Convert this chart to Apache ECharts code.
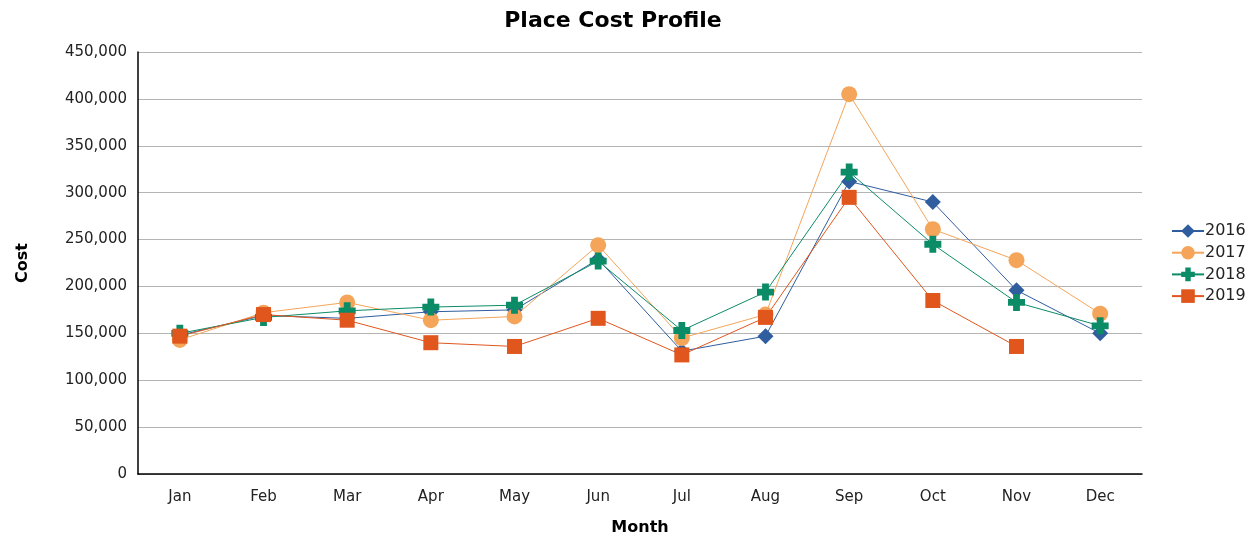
<!DOCTYPE html>
<html>
<head>
<meta charset="utf-8">
<script src="https://cdn.jsdelivr.net/npm/echarts@6/dist/echarts.min.js"></script>
<style>html,body{margin:0;padding:0;background:#fff}#c{width:1250px;height:541px}</style>
</head>
<body>
<div id="c"></div>
<script>
const months = ['Jan','Feb','Mar','Apr','May','Jun','Jul','Aug','Sep','Oct','Nov','Dec'];
const s2016 = [148000,169000,166000,173000,175000,229000,131000,147000,312000,290000,196000,150000];
const s2017 = [143000,172000,183000,164000,168000,244000,145000,170000,405000,261000,228000,171000];
const s2018 = [150000,167000,174000,178000,180000,227000,153000,194000,322000,245000,183000,158000];
const s2019 = [147000,170000,164000,140000,136000,166000,127000,167000,295000,185000,136000,null];
const yTicks = [0,50000,100000,150000,200000,250000,300000,350000,400000,450000];

const FONT = 'DejaVu Sans';
const plus = 'path://M3,0H7V3H10V7H7V10H3V7H0V3H3Z';
function mk(name, data, color, symbol, size){
  return {name, type:'line', data, symbol, symbolSize:size, showAllSymbol:true,
    lineStyle:{width:1,color}, itemStyle:{color}, connectNulls:false, z: 2};
}
const chart = echarts.init(document.getElementById('c'));
chart.setOption({
  animation:false,
  textStyle:{fontFamily:FONT},
  title:{text:'Place Cost Profile', left:608, top:5, textAlign:'center',
    textStyle:{fontFamily:FONT, fontWeight:'bold', fontSize:22, color:'#000'}},
  legend:{orient:'vertical', left:1166, top:218, itemWidth:32, itemHeight:17, itemGap:5.7,
    textStyle:{fontFamily:FONT, fontSize:16, color:'#222', padding:[0,0,0,-4]},
    data:['2016','2017','2018','2019']},
  grid:{left:138, right:108, top:52, bottom:67, containLabel:false},
  xAxis:{type:'category', data:months, boundaryGap:true,
    name:'Month', nameLocation:'middle', nameGap:46,
    nameTextStyle:{fontFamily:FONT, fontWeight:'bold', fontSize:16, color:'#000'},
    axisLine:{lineStyle:{color:'#000', width:1.5}}, axisTick:{show:false},
    axisLabel:{fontFamily:FONT, fontSize:15, color:'#222', margin:16}},
  yAxis:{type:'value', min:0, max:450000, interval:50000,
    name:'Cost', nameLocation:'middle', nameGap:107,
    nameTextStyle:{fontFamily:FONT, fontWeight:'bold', fontSize:16, color:'#000'},
    axisLine:{show:true, lineStyle:{color:'#000', width:1.5}}, axisTick:{show:false},
    splitLine:{lineStyle:{color:'#b4b4b4', width:1}},
    axisLabel:{fontFamily:FONT, fontSize:15, color:'#222', margin:11,
      formatter:v=> yTicks.includes(v) ? v.toLocaleString('en-US') : ''}},
  series:[
    mk('2016', s2016, '#2f5d9e', 'diamond', 16),
    mk('2017', s2017, '#f4a55a', 'circle', 16),
    mk('2018', s2018, '#0b8c67', plus, 17),
    mk('2019', s2019, '#e0561d', 'rect', 15)
  ]
});
</script>
</body>
</html>
